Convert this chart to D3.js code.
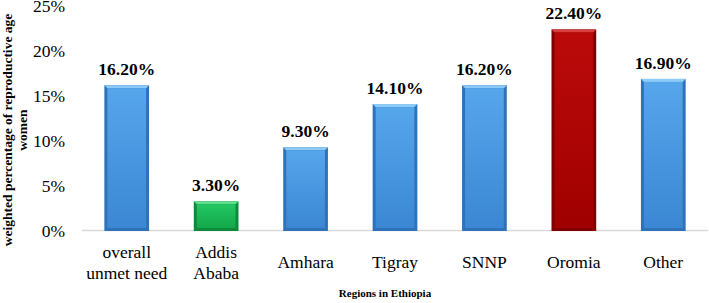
<!DOCTYPE html>
<html>
<head>
<meta charset="utf-8">
<script src="https://cdn.jsdelivr.net/npm/d3@7"></script>
<style>
  body { margin: 0; background: #fff; }
  text { font-family: 'Liberation Serif', 'Times New Roman', serif; }
</style>
</head>
<body>
<div id="chart"></div>
<script>
// 数据
const categories = [['overall', 'unmet need'], ['Addis', 'Ababa'], ['Amhara'], ['Tigray'], ['SNNP'], ['Oromia'], ['Other']]
const values = [16.2, 3.3, 9.3, 14.1, 16.2, 22.4, 16.9]
const barColors = ['blue', 'green', 'blue', 'blue', 'blue', 'red', 'blue']
const yTicks = [0, 5, 10, 15, 20, 25]

const width = 709
const height = 303
const plotLeft = 82
const plotRight = 708
const plotTop = 6
const plotBottom = 231

const palette = {
  blue: { light: '#8ccaf7', top: '#56a6ec', bottom: '#3b87d3', edge: '#2f72b8' },
  green: { light: '#5fe08e', top: '#22c763', bottom: '#13a84b', edge: '#0e8a3c' },
  red: { light: '#d84040', top: '#bb0a0a', bottom: '#a00000', edge: '#800000' }
}

const svg = d3.select('#chart').append('svg').attr('width', width).attr('height', height)

// 渐变
const defs = svg.append('defs')
Object.keys(palette).forEach(key => {
  let g = defs.append('linearGradient').attr('id', 'grad-' + key).attr('x1', 0).attr('y1', 0).attr('x2', 0).attr('y2', 1)
  g.append('stop').attr('offset', '0%').attr('stop-color', palette[key].top)
  g.append('stop').attr('offset', '100%').attr('stop-color', palette[key].bottom)
})

// 比例尺
let x = d3.scaleBand().domain(d3.range(values.length)).range([plotLeft, plotRight]).paddingInner(0.5).paddingOuter(0.25)
let y = d3.scaleLinear().domain([0, 25]).range([plotBottom, plotTop])

// 纵坐标刻度
svg.append('g').selectAll('text').data(yTicks).enter().append('text')
  .attr('x', 65)
  .attr('y', d => y(d))
  .attr('dy', '0.35em')
  .attr('text-anchor', 'end')
  .attr('font-size', '17.5px')
  .attr('fill', '#000')
  .text(d => d + '%')

// 横轴线
svg.append('line').attr('x1', plotLeft).attr('x2', plotRight).attr('y1', plotBottom - 0.5).attr('y2', plotBottom - 0.5)
  .attr('stroke', '#d9d9d9').attr('stroke-width', 1.5)

// 柱子
let bars = svg.append('g').selectAll('g').data(values).enter().append('g')
bars.each(function (d, i) {
  let g = d3.select(this)
  let c = palette[barColors[i]]
  let bx = x(i)
  let bw = x.bandwidth()
  let by = y(d)
  let bh = y(0) - y(d)
  let b = 3
  g.append('rect').attr('x', bx).attr('y', by).attr('width', bw).attr('height', bh).attr('fill', c.edge)
  // 顶部高光
  g.append('polygon')
    .attr('points', [[bx, by], [bx + bw, by], [bx + bw - b, by + b], [bx + b, by + b]].join(' '))
    .attr('fill', c.light)
  g.append('rect').attr('x', bx + b).attr('y', by + b).attr('width', bw - 2 * b).attr('height', Math.max(0, bh - 2 * b))
    .attr('fill', 'url(#grad-' + barColors[i] + ')')
})

// 数值标签
svg.append('g').selectAll('text').data(values).enter().append('text')
  .attr('x', (d, i) => x(i) + x.bandwidth() / 2)
  .attr('y', d => y(d) - 10)
  .attr('text-anchor', 'middle')
  .attr('font-size', '17.5px')
  .attr('font-weight', 'bold')
  .attr('fill', '#000')
  .text(d => d.toFixed(2) + '%')

// 类别标签
let cat = svg.append('g').selectAll('text').data(categories).enter().append('text')
  .attr('x', (d, i) => x(i) + x.bandwidth() / 2)
  .attr('text-anchor', 'middle')
  .attr('font-size', '17.5px')
  .attr('fill', '#000')
cat.each(function (d) {
  let t = d3.select(this)
  let y0 = d.length === 1 ? 262 : 252
  d.forEach((line, k) => {
    t.append('tspan').attr('x', t.attr('x')).attr('y', y0 + k * 21).attr('dy', '0.35em').text(line)
  })
})

// 坐标轴标题
svg.append('text').attr('x', 385).attr('y', 293).attr('dy', '0.35em')
  .attr('text-anchor', 'middle').attr('font-size', '11px').attr('font-weight', 'bold').text('Regions in Ethiopia')
let yt = svg.append('text').attr('transform', 'translate(0,130) rotate(-90)')
  .attr('text-anchor', 'middle').attr('font-size', '13.5px').attr('font-weight', 'bold')
yt.append('tspan').attr('x', 0).attr('y', 12).text('weighted percentage of reproductive age')
yt.append('tspan').attr('x', 0).attr('y', 27).text('women')
</script>
</body>
</html>
